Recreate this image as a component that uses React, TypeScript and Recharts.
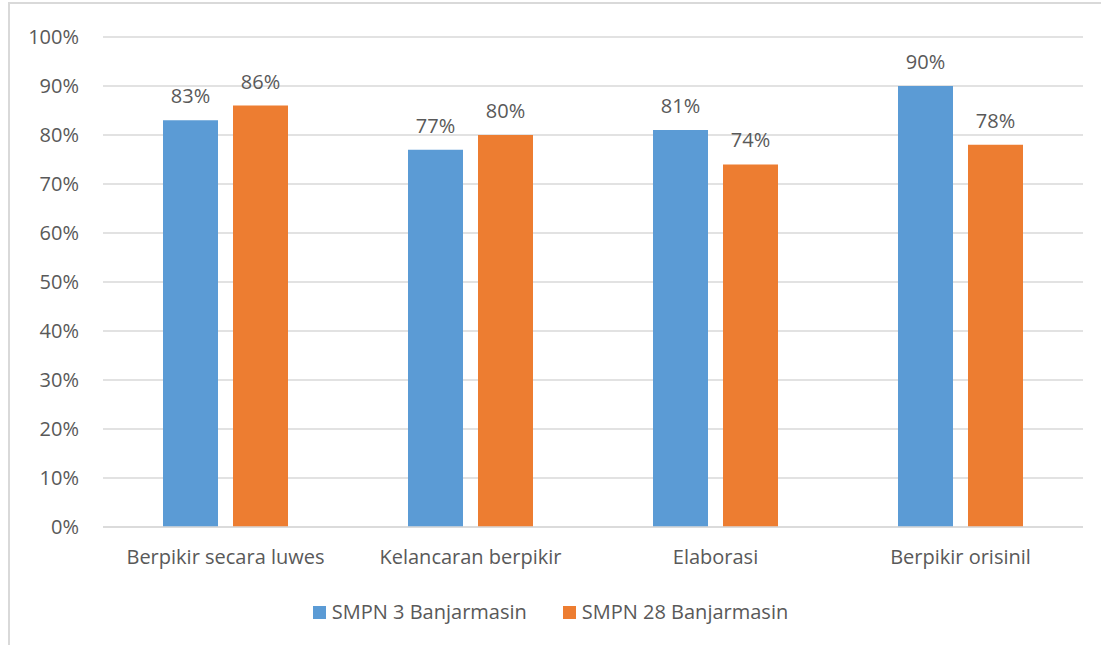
import { BarChart, Bar, XAxis, YAxis, CartesianGrid, Legend, LabelList } from "recharts";

const categories = ["Berpikir secara luwes", "Kelancaran berpikir", "Elaborasi", "Berpikir orisinil"];
const smpn3 = [83, 77, 81, 90];
const smpn28 = [86, 80, 74, 78];
const yTicks = [0, 10, 20, 30, 40, 50, 60, 70, 80, 90, 100];

const seriesNames = ["SMPN 3 Banjarmasin", "SMPN 28 Banjarmasin"];
const colors = ["#5b9bd5", "#ed7d31"];

const data = categories.map((name, i) => ({ name, a: smpn3[i], b: smpn28[i] }));

const FONT = "'Open Sans', sans-serif";
const TEXT = "#595959";
const FS = 20;

function LegendBox() {
  return (
    <div style={{ display: "flex", justifyContent: "center", gap: 36, fontFamily: FONT, fontSize: FS, color: TEXT, lineHeight: "24px" }}>
      {seriesNames.map((n, i) => (
        <div key={n} style={{ display: "flex", alignItems: "center" }}>
          <span style={{ width: 13, height: 13, background: colors[i], display: "inline-block", marginRight: 6 }} />
          {n}
        </div>
      ))}
    </div>
  );
}

export default function App() {
  return (
    <div style={{ position: "absolute", left: 0, top: 0, width: 1101, height: 645, background: "#fff", overflow: "hidden" }}>
      <div style={{ position: "absolute", left: 8, top: 2, width: 1200, height: 700, borderLeft: "2px solid #d9d9d9", borderTop: "2px solid #d9d9d9" }} />
      <div style={{ position: "absolute", left: 0, top: 0 }}>
        <BarChart
          width={1101}
          height={645}
          data={data}
          margin={{ top: 37, right: 18, bottom: 44, left: 0 }}
          barGap={15}
          barSize={55}
        >
          <CartesianGrid vertical={false} stroke="#d9d9d9" strokeWidth={1.5} />
          <XAxis
            dataKey="name"
            height={50}
            tickLine={false}
            axisLine={{ stroke: "#d9d9d9", strokeWidth: 1.5 }}
            tick={{ fill: TEXT, fontFamily: FONT, fontSize: FS }}
            tickMargin={17}
          />
          <YAxis
            width={103}
            domain={[0, 100]}
            ticks={yTicks}
            interval={0}
            axisLine={false}
            tickLine={false}
            tickFormatter={(v) => `${v}%`}
            tick={{ fill: TEXT, fontFamily: FONT, fontSize: FS, dx: -16 }}
          />
          <Legend
            verticalAlign="bottom"
            wrapperStyle={{ top: 600, left: 0, width: 1101 }}
            content={() => <LegendBox />}
          />
          <Bar dataKey="a" fill={colors[0]} isAnimationActive={false}>
            <LabelList dataKey="a" position="top" offset={17} formatter={(v) => `${v}%`} fill={TEXT} fontFamily={FONT} fontSize={FS} />
          </Bar>
          <Bar dataKey="b" fill={colors[1]} isAnimationActive={false}>
            <LabelList dataKey="b" position="top" offset={17} formatter={(v) => `${v}%`} fill={TEXT} fontFamily={FONT} fontSize={FS} />
          </Bar>
        </BarChart>
      </div>
    </div>
  );
}
